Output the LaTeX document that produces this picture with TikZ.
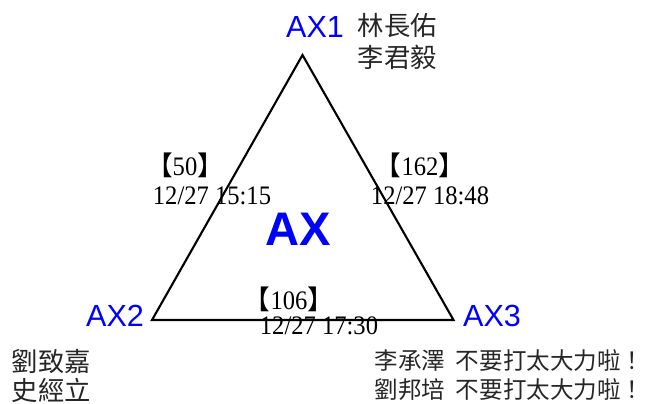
\documentclass[tikz,border=0pt]{standalone}
\usepackage{fontspec}
\setmainfont{Liberation Serif}
\newfontfamily\numfont[FakeStretch=0.92]{Liberation Serif}
\newfontfamily\axfont{Liberation Sans}
\newfontfamily\cjk{Noto Sans CJK TC}
\usepackage{tikz}

\begin{document}
\begin{tikzpicture}[
  ax/.style={inner sep=0pt,text=blue,font=\axfont\fontsize{8.7}{10}\selectfont},
  crew/.style={inner sep=0pt,anchor=west,align=left,text=black!85},
  count/.style={inner sep=0pt,font=\numfont\fontsize{7.6}{8}\selectfont},
  stamp/.style={inner sep=0pt,font=\numfont\fontsize{7.6}{8}\selectfont}]
  \useasboundingbox (0,0) rectangle (6.48,4.03);
  \coordinate (p1) at (3.025,3.48);
  \coordinate (p2) at (1.52,0.83);
  \coordinate (p3) at (4.535,0.83);
  \draw[line width=0.6pt] (p1) -- (p2) -- (p3) -- cycle;
  \node[ax] (ax1) at (3.15,3.76) {AX1};
  \node[ax] (ax2) at (1.15,0.87) {AX2};
  \node[ax] (ax3) at (4.92,0.87) {AX3};
  \node[ax,font=\axfont\bfseries\fontsize{13.4}{15}\selectfont] (axc) at (2.985,1.74) {AX};
  \node[crew,font=\cjk\fontsize{7.5}{9.1}\selectfont] (crew1) at (3.57,3.62) {林長佑\\李君毅};
  \node[crew,font=\cjk\fontsize{7.5}{8.3}\selectfont] (crew2) at (0.11,0.27) {劉致嘉\\史經立};
  \node[crew,font=\cjk\fontsize{6.7}{8.5}\selectfont] (crew3) at (3.74,0.28)
    {李承澤\hspace{0.45em}不要打太大力啦！\\劉邦培\hspace{0.45em}不要打太大力啦！};
  \node[count] (n12) at (1.85,2.38) {{\cjk 【}50{\cjk 】}};
  \node[stamp] (t12) at (2.12,2.07) {12/27 15:15};
  \node[count] (n13) at (4.20,2.38) {{\cjk 【}162{\cjk 】}};
  \node[stamp] (t13) at (4.30,2.07) {12/27 18:48};
  \node[count] (n23) at (2.89,1.04) {{\cjk 【}106{\cjk 】}};
  \node[stamp] (t23) at (3.19,0.77) {12/27 17:30};
\end{tikzpicture}
\end{document}
